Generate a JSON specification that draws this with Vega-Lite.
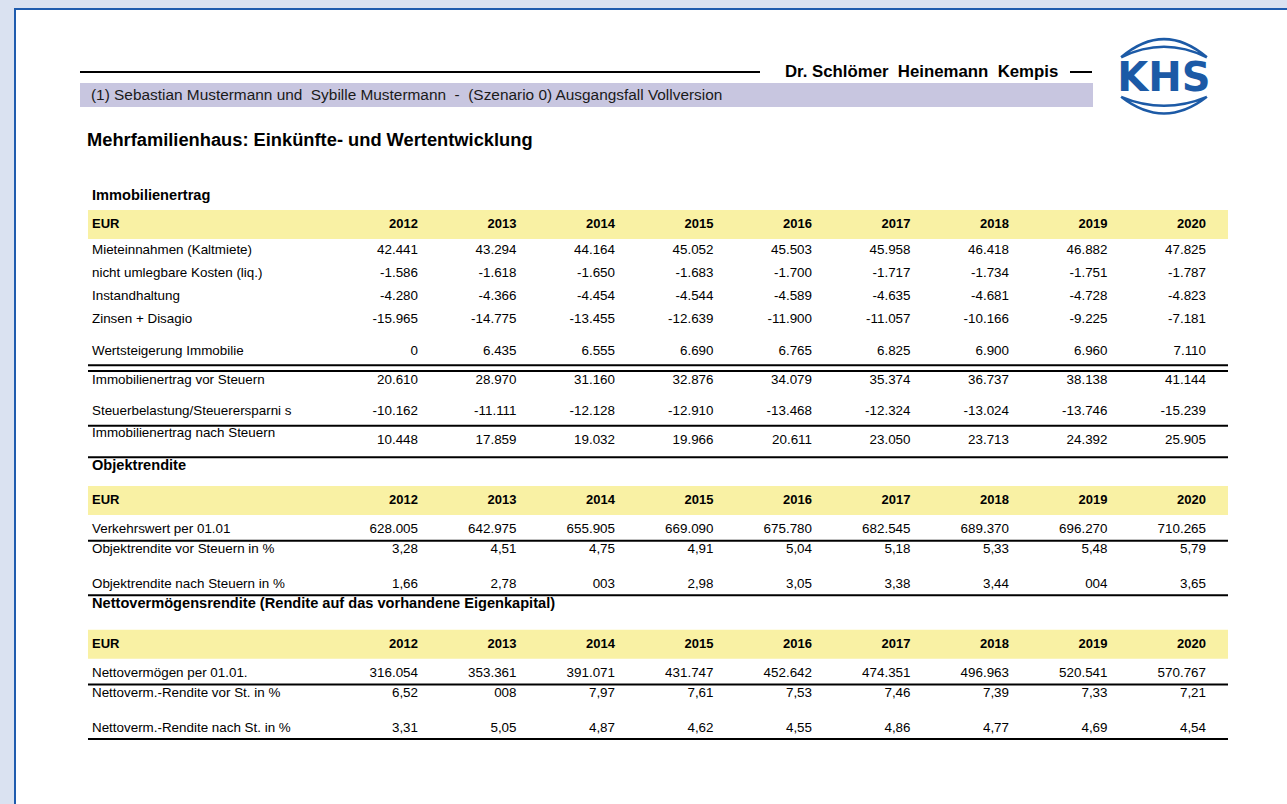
{
  "$schema": "https://vega.github.io/schema/vega-lite/v6.json",
  "width": 1274,
  "height": 797,
  "autosize": {"type": "none"},
  "padding": {"left": 15, "top": 9, "right": 0, "bottom": 0},
  "background": "#dae2f1",
  "config": {
    "view": {"fill": "white", "stroke": "#1f5cae", "strokeWidth": 2},
    "text": {"font": "Liberation Sans", "fill": "#000000", "baseline": "middle"}
  },
  "datasets": {
    "texts": [
      {"row": "firm", "kind": "firm", "label": "Dr. Schlömer\u00a0 Heinemann\u00a0 Kempis"},
      {"row": "logo", "kind": "logo", "label": "KHS"},
      {"row": "scenario", "kind": "scenario", "label": "(1) Sebastian Mustermann und\u00a0 Sybille Mustermann \u00a0-\u00a0 (Szenario 0) Ausgangsfall Vollversion"},
      {"row": "title", "kind": "title", "label": "Mehrfamilienhaus: Einkünfte- und Wertentwicklung"},
      {"row": "sec_imm", "kind": "section", "label": "Immobilienertrag"},
      {"row": "sec_obj", "kind": "section", "label": "Objektrendite"},
      {"row": "sec_nv", "kind": "section", "label": "Nettovermögensrendite (Rendite auf das vorhandene Eigenkapital)"}
    ],
    "table": [
      {"row": "eur1", "kind": "header", "label": "EUR", "2012": "2012", "2013": "2013", "2014": "2014", "2015": "2015", "2016": "2016", "2017": "2017", "2018": "2018", "2019": "2019", "2020": "2020"},
      {"row": "r_miete", "kind": "item", "label": "Mieteinnahmen (Kaltmiete)", "2012": "42.441", "2013": "43.294", "2014": "44.164", "2015": "45.052", "2016": "45.503", "2017": "45.958", "2018": "46.418", "2019": "46.882", "2020": "47.825"},
      {"row": "r_kosten", "kind": "item", "label": "nicht umlegbare Kosten (liq.)", "2012": "-1.586", "2013": "-1.618", "2014": "-1.650", "2015": "-1.683", "2016": "-1.700", "2017": "-1.717", "2018": "-1.734", "2019": "-1.751", "2020": "-1.787"},
      {"row": "r_instand", "kind": "item", "label": "Instandhaltung", "2012": "-4.280", "2013": "-4.366", "2014": "-4.454", "2015": "-4.544", "2016": "-4.589", "2017": "-4.635", "2018": "-4.681", "2019": "-4.728", "2020": "-4.823"},
      {"row": "r_zinsen", "kind": "item", "label": "Zinsen + Disagio", "2012": "-15.965", "2013": "-14.775", "2014": "-13.455", "2015": "-12.639", "2016": "-11.900", "2017": "-11.057", "2018": "-10.166", "2019": "-9.225", "2020": "-7.181"},
      {"row": "r_wert", "kind": "item", "label": "Wertsteigerung Immobilie", "2012": "0", "2013": "6.435", "2014": "6.555", "2015": "6.690", "2016": "6.765", "2017": "6.825", "2018": "6.900", "2019": "6.960", "2020": "7.110"},
      {"row": "r_vorst", "kind": "item", "label": "Immobilienertrag vor Steuern", "2012": "20.610", "2013": "28.970", "2014": "31.160", "2015": "32.876", "2016": "34.079", "2017": "35.374", "2018": "36.737", "2019": "38.138", "2020": "41.144"},
      {"row": "r_steuer", "kind": "item", "label": "Steuerbelastung/Steuerersparni s", "2012": "-10.162", "2013": "-11.111", "2014": "-12.128", "2015": "-12.910", "2016": "-13.468", "2017": "-12.324", "2018": "-13.024", "2019": "-13.746", "2020": "-15.239"},
      {"row": "r_nachst", "kind": "item", "label": "Immobilienertrag nach Steuern", "2012": "10.448", "2013": "17.859", "2014": "19.032", "2015": "19.966", "2016": "20.611", "2017": "23.050", "2018": "23.713", "2019": "24.392", "2020": "25.905"},
      {"row": "eur2", "kind": "header", "label": "EUR", "2012": "2012", "2013": "2013", "2014": "2014", "2015": "2015", "2016": "2016", "2017": "2017", "2018": "2018", "2019": "2019", "2020": "2020"},
      {"row": "r_verkehr", "kind": "item", "label": "Verkehrswert per 01.01", "2012": "628.005", "2013": "642.975", "2014": "655.905", "2015": "669.090", "2016": "675.780", "2017": "682.545", "2018": "689.370", "2019": "696.270", "2020": "710.265"},
      {"row": "r_objvor", "kind": "item", "label": "Objektrendite vor Steuern in %", "2012": "3,28", "2013": "4,51", "2014": "4,75", "2015": "4,91", "2016": "5,04", "2017": "5,18", "2018": "5,33", "2019": "5,48", "2020": "5,79"},
      {"row": "r_objnach", "kind": "item", "label": "Objektrendite nach Steuern in %", "2012": "1,66", "2013": "2,78", "2014": "003", "2015": "2,98", "2016": "3,05", "2017": "3,38", "2018": "3,44", "2019": "004", "2020": "3,65"},
      {"row": "eur3", "kind": "header", "label": "EUR", "2012": "2012", "2013": "2013", "2014": "2014", "2015": "2015", "2016": "2016", "2017": "2017", "2018": "2018", "2019": "2019", "2020": "2020"},
      {"row": "r_nv", "kind": "item", "label": "Nettovermögen per 01.01.", "2012": "316.054", "2013": "353.361", "2014": "391.071", "2015": "431.747", "2016": "452.642", "2017": "474.351", "2018": "496.963", "2019": "520.541", "2020": "570.767"},
      {"row": "r_nvvor", "kind": "item", "label": "Nettoverm.-Rendite vor St. in %", "2012": "6,52", "2013": "008", "2014": "7,97", "2015": "7,61", "2016": "7,53", "2017": "7,46", "2018": "7,39", "2019": "7,33", "2020": "7,21"},
      {"row": "r_nvnach", "kind": "item", "label": "Nettoverm.-Rendite nach St. in %", "2012": "3,31", "2013": "5,05", "2014": "4,87", "2015": "4,62", "2016": "4,55", "2017": "4,86", "2018": "4,77", "2019": "4,69", "2020": "4,54"}
    ],
    "lines": [
      {"row": "d1"}, {"row": "d2"}, {"row": "l3"}, {"row": "l4"},
      {"row": "l5"}, {"row": "l6"}, {"row": "l7"}, {"row": "l8"}
    ]
  },
  "encoding": {
    "y": {
      "field": "row",
      "type": "nominal",
      "axis": null,
      "scale": {
        "type": "point",
        "padding": 0,
        "range": [63, 730],
        "domain": ["firm","_1","logo","_3","_4","_5","_6","_7","scenario","_9","_10","_11","_12","_13","_14","_15","_16","_17","_18","_19","_20","_21","_22","_23","title","_25","_26","_27","_28","_29","_30","_31","_32","_33","_34","_35","_36","_37","_38","_39","_40","_41","_42","sec_imm","_44","_45","_46","_47","_48","_49","_50","_51","_52","eur1","_54","_55","_56","_57","_58","_59","_60","_61","r_miete","_63","_64","_65","_66","_67","_68","_69","r_kosten","_71","_72","_73","_74","_75","_76","_77","r_instand","_79","_80","_81","_82","_83","_84","_85","r_zinsen","_87","_88","_89","_90","_91","_92","_93","_94","_95","_96","r_wert","_98","_99","_100","_101","d1","_103","d2","_105","_106","r_vorst","_108","_109","_110","_111","_112","_113","_114","_115","_116","_117","r_steuer","_119","_120","_121","_122","l3","_124","_125","_126","_127","r_nachst","_129","_130","_131","_132","_133","l4","_135","_136","sec_obj","_138","_139","_140","_141","_142","_143","_144","_145","_146","_147","_148","eur2","_150","_151","_152","_153","_154","_155","_156","_157","_158","r_verkehr","_160","_161","_162","l5","_164","_165","r_objvor","_167","_168","_169","_170","_171","_172","_173","_174","_175","_176","_177","r_objnach","_179","_180","_181","l6","_183","_184","sec_nv","_186","_187","_188","_189","_190","_191","_192","_193","_194","_195","_196","_197","_198","eur3","_200","_201","_202","_203","_204","_205","_206","_207","_208","r_nv","_210","_211","_212","l7","_214","_215","r_nvvor","_217","_218","_219","_220","_221","_222","_223","_224","_225","_226","_227","r_nvnach","_229","_230","_231","l8"]
      }
    }
  },
  "layer": [
    {
      "data": {"name": "texts"},
      "transform": [{"filter": "datum.kind == 'scenario'"}],
      "mark": {"type": "rule", "strokeWidth": 24, "color": "#c8c6e0"},
      "encoding": {
        "x": {"datum": 2008.5685, "type": "quantitative", "axis": null, "scale": {"type": "linear", "domain": [2012, 2020], "range": [403, 1191], "nice": false, "zero": false}},
        "x2": {"datum": 2018.8528}
      }
    },
    {
      "data": {"name": "table"},
      "transform": [{"filter": "datum.kind == 'header'"}],
      "mark": {"type": "rule", "strokeWidth": 29, "color": "#f9f1a4"},
      "encoding": {
        "x": {"datum": 2008.6497, "type": "quantitative", "axis": null, "scale": {"type": "linear", "domain": [2012, 2020], "range": [403, 1191], "nice": false, "zero": false}},
        "x2": {"datum": 2020.2234}
      }
    },
    {
      "data": {"name": "lines"},
      "mark": {"type": "rule", "strokeWidth": 2, "color": "#000000"},
      "encoding": {
        "x": {"datum": 2008.6497, "type": "quantitative", "axis": null, "scale": {"type": "linear", "domain": [2012, 2020], "range": [403, 1191], "nice": false, "zero": false}},
        "x2": {"datum": 2020.2234}
      }
    },
    {
      "data": {"name": "texts"},
      "transform": [{"filter": "datum.kind == 'firm'"}],
      "mark": {"type": "rule", "strokeWidth": 2, "color": "#000000"},
      "encoding": {
        "x": {"datum": 2008.5685, "type": "quantitative", "axis": null, "scale": {"type": "linear", "domain": [2012, 2020], "range": [403, 1191], "nice": false, "zero": false}},
        "x2": {"datum": 2015.4721}
      }
    },
    {
      "data": {"name": "texts"},
      "transform": [{"filter": "datum.kind == 'firm'"}],
      "mark": {"type": "rule", "strokeWidth": 2, "color": "#000000"},
      "encoding": {
        "x": {"datum": 2018.6193, "type": "quantitative", "axis": null, "scale": {"type": "linear", "domain": [2012, 2020], "range": [403, 1191], "nice": false, "zero": false}},
        "x2": {"datum": 2018.8426}
      }
    },
    {
      "data": {"name": "texts"},
      "transform": [{"filter": "datum.kind == 'firm'"}],
      "mark": {"type": "text", "align": "left", "fontSize": 16.8, "fontWeight": "bold"},
      "encoding": {
        "x": {"datum": 2015.7259, "type": "quantitative", "axis": null, "scale": {"type": "linear", "domain": [2012, 2020], "range": [403, 1191], "nice": false, "zero": false}},
        "text": {"field": "label"}
      }
    },
    {
      "data": {"name": "texts"},
      "transform": [{"filter": "datum.kind == 'scenario'"}],
      "mark": {"type": "text", "align": "left", "fontSize": 15.4, "fill": "#1a1a1a"},
      "encoding": {
        "x": {"datum": 2008.6802, "type": "quantitative", "axis": null, "scale": {"type": "linear", "domain": [2012, 2020], "range": [403, 1191], "nice": false, "zero": false}},
        "text": {"field": "label"}
      }
    },
    {
      "data": {"name": "texts"},
      "transform": [{"filter": "datum.kind == 'title'"}],
      "mark": {"type": "text", "align": "left", "fontSize": 18.3, "fontWeight": "bold"},
      "encoding": {
        "x": {"datum": 2008.6396, "type": "quantitative", "axis": null, "scale": {"type": "linear", "domain": [2012, 2020], "range": [403, 1191], "nice": false, "zero": false}},
        "text": {"field": "label"}
      }
    },
    {
      "data": {"name": "texts"},
      "transform": [{"filter": "datum.kind == 'section'"}],
      "mark": {"type": "text", "align": "left", "fontSize": 14.6, "fontWeight": "bold"},
      "encoding": {
        "x": {"datum": 2008.6904, "type": "quantitative", "axis": null, "scale": {"type": "linear", "domain": [2012, 2020], "range": [403, 1191], "nice": false, "zero": false}},
        "text": {"field": "label"}
      }
    },
    {
      "data": {"name": "table"},
      "transform": [{"filter": "datum.kind == 'header'"}],
      "mark": {"type": "text", "align": "left", "fontSize": 13, "fontWeight": "bold"},
      "encoding": {
        "x": {"datum": 2008.6904, "type": "quantitative", "axis": null, "scale": {"type": "linear", "domain": [2012, 2020], "range": [403, 1191], "nice": false, "zero": false}},
        "text": {"field": "label"}
      }
    },
    {
      "data": {"name": "table"},
      "transform": [{"filter": "datum.kind == 'item' && datum.row != 'r_nachst'"}],
      "mark": {"type": "text", "align": "left", "fontSize": 13.4},
      "encoding": {
        "x": {"datum": 2008.6904, "type": "quantitative", "axis": null, "scale": {"type": "linear", "domain": [2012, 2020], "range": [403, 1191], "nice": false, "zero": false}},
        "text": {"field": "label"}
      }
    },
    {
      "data": {"name": "table"},
      "transform": [{"filter": "datum.row == 'r_nachst'"}],
      "mark": {"type": "text", "align": "left", "fontSize": 13.4, "dy": -7},
      "encoding": {
        "x": {"datum": 2008.6904, "type": "quantitative", "axis": null, "scale": {"type": "linear", "domain": [2012, 2020], "range": [403, 1191], "nice": false, "zero": false}},
        "text": {"field": "label"}
      }
    },
    {
      "data": {"name": "table"},
      "transform": [
        {"filter": "datum.kind == 'header'"},
        {"fold": ["2012", "2013", "2014", "2015", "2016", "2017", "2018", "2019", "2020"], "as": ["year", "value"]}
      ],
      "mark": {"type": "text", "align": "right", "fontSize": 13, "fontWeight": "bold"},
      "encoding": {
        "x": {"field": "year", "type": "quantitative", "axis": null, "scale": {"type": "linear", "domain": [2012, 2020], "range": [403, 1191], "nice": false, "zero": false}},
        "text": {"field": "value"}
      }
    },
    {
      "data": {"name": "table"},
      "transform": [
        {"filter": "datum.kind == 'item'"},
        {"fold": ["2012", "2013", "2014", "2015", "2016", "2017", "2018", "2019", "2020"], "as": ["year", "value"]}
      ],
      "mark": {"type": "text", "align": "right", "fontSize": 13.4},
      "encoding": {
        "x": {"field": "year", "type": "quantitative", "axis": null, "scale": {"type": "linear", "domain": [2012, 2020], "range": [403, 1191], "nice": false, "zero": false}},
        "text": {"field": "value"}
      }
    },
    {
      "data": {"name": "texts"},
      "transform": [{"filter": "datum.kind == 'logo'"}],
      "mark": {
        "type": "point",
        "shape": "M -0.67 -0.32 Q 0 -0.888 0.67 -0.32 M -0.67 -0.32 Q 0 -0.648 0.67 -0.32 M -0.67 0.298 Q 0 0.82 0.67 0.298 M -0.67 0.298 Q 0 0.578 0.67 0.298",
        "size": 16384,
        "filled": false,
        "stroke": "#1c5aa6",
        "strokeWidth": 2.5,
        "opacity": 1
      },
      "encoding": {
        "x": {"datum": 2019.5736, "type": "quantitative", "axis": null, "scale": {"type": "linear", "domain": [2012, 2020], "range": [403, 1191], "nice": false, "zero": false}}
      }
    },
    {
      "data": {"name": "texts"},
      "transform": [{"filter": "datum.kind == 'logo'"}],
      "mark": {"type": "text", "align": "center", "font": "DejaVu Sans", "fontSize": 40, "fontWeight": "bold", "fill": "#1c5aa6", "dy": 1},
      "encoding": {
        "x": {"datum": 2019.5736, "type": "quantitative", "axis": null, "scale": {"type": "linear", "domain": [2012, 2020], "range": [403, 1191], "nice": false, "zero": false}},
        "text": {"field": "label"}
      }
    }
  ]
}
